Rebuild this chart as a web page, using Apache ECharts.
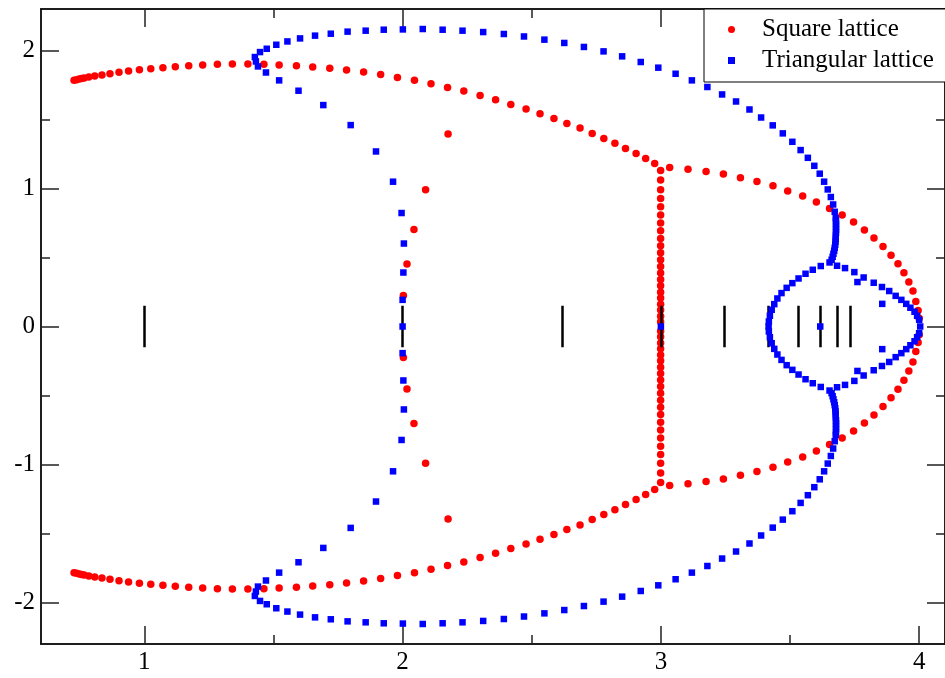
<!DOCTYPE html>
<html>
<head>
    <meta charset="utf-8">
    <title>Chromatic zeros</title>
    <script src="https://cdn.jsdelivr.net/npm/echarts@6/dist/echarts.min.js"></script>
    <style>
        html, body { margin: 0; padding: 0; background: #fff; }
    </style>
</head>
<body>
    <div id="main" style="width: 945px;height:678px;"></div>
    <script type="text/javascript">
        // tick positions
        var xMajorTicks = [1, 2, 3, 4];
        var xMinorTicks = [1.5, 2.5, 3.5];
        var yMajorTicks = [-2, -1, 0, 1, 2];
        var yMinorTicks = [-1.5, -0.5, 0.5, 1.5];

        // short vertical marks on the real axis
        var berahaNumbers = [1, 2, 2.618, 3, 3.247, 3.414, 3.532, 3.618, 3.682, 3.732];
        var markHalfHeight = 0.15;

        // square lattice (red circles)
        var squareOuterUpper = [
            [0.728,1.783],[0.738,1.788],[0.748,1.793],[0.757,1.797],[0.767,1.800],[0.785,1.807],[0.808,1.814],
            [0.836,1.822],[0.867,1.831],[0.902,1.841],[0.939,1.851],[0.981,1.860],[1.025,1.867],[1.072,1.875],
            [1.120,1.882],[1.172,1.889],[1.226,1.894],[1.283,1.899],[1.341,1.901],[1.401,1.901],[1.463,1.899],
            [1.522,1.894],[1.589,1.889],[1.652,1.880],[1.718,1.870],[1.783,1.858],[1.849,1.843],[1.915,1.826],
            [1.980,1.804],[2.046,1.783],[2.110,1.759],[2.174,1.732],[2.237,1.706],[2.300,1.673],[2.360,1.643],
            [2.419,1.609],[2.478,1.575],[2.532,1.541],[2.586,1.507],[2.636,1.471],[2.687,1.438],[2.734,1.399],
            [2.779,1.362],[2.822,1.328],[2.863,1.289],[2.904,1.253],[2.941,1.217],[2.976,1.181]
        ];
        var squareOuterLower = [
            [0.728,-1.783],[0.738,-1.788],[0.748,-1.793],[0.757,-1.797],[0.767,-1.800],[0.785,-1.807],[0.808,-1.814],
            [0.836,-1.822],[0.867,-1.831],[0.902,-1.841],[0.939,-1.851],[0.981,-1.860],[1.025,-1.867],[1.072,-1.875],
            [1.120,-1.882],[1.172,-1.889],[1.226,-1.894],[1.283,-1.899],[1.341,-1.901],[1.401,-1.901],[1.463,-1.899],
            [1.522,-1.894],[1.589,-1.889],[1.652,-1.880],[1.718,-1.870],[1.783,-1.858],[1.849,-1.843],[1.915,-1.826],
            [1.980,-1.804],[2.046,-1.783],[2.110,-1.759],[2.174,-1.732],[2.237,-1.706],[2.300,-1.673],[2.360,-1.643],
            [2.419,-1.609],[2.478,-1.575],[2.532,-1.541],[2.586,-1.507],[2.636,-1.471],[2.687,-1.438],[2.734,-1.399],
            [2.779,-1.362],[2.822,-1.328],[2.863,-1.289],[2.904,-1.253],[2.941,-1.217],[2.976,-1.181]
        ];
        var squareRightUpper = [
            [3.034,1.152],[3.105,1.139],[3.175,1.123],[3.242,1.104],[3.308,1.078],[3.372,1.051],[3.434,1.020],
            [3.491,0.982],[3.549,0.945],[3.602,0.901],[3.653,0.855],[3.702,0.807],[3.746,0.757],[3.788,0.699],
            [3.825,0.641],[3.860,0.580],[3.891,0.517],[3.918,0.454],[3.941,0.389],[3.960,0.322],[3.976,0.257],
            [3.987,0.181],[3.996,0.116],[4.000,0.059]
        ];
        var squareRightLower = [
            [3.034,-1.152],[3.105,-1.139],[3.175,-1.123],[3.242,-1.104],[3.308,-1.078],[3.372,-1.051],[3.434,-1.020],
            [3.491,-0.982],[3.549,-0.945],[3.602,-0.901],[3.653,-0.855],[3.702,-0.807],[3.746,-0.757],[3.788,-0.699],
            [3.825,-0.641],[3.860,-0.580],[3.891,-0.517],[3.918,-0.454],[3.941,-0.389],[3.960,-0.322],[3.976,-0.257],
            [3.987,-0.181],[3.996,-0.116],[4.000,-0.059]
        ];
        var squareVertical = [
            [2.999,1.130],[2.999,1.061],[2.999,0.991],[2.999,0.928],[2.999,0.867],[2.999,0.807],[2.999,0.749],
            [2.999,0.693],[2.999,0.638],[2.999,0.585],[2.999,0.534],[2.999,0.483],[2.999,0.435],[2.999,0.387],
            [2.999,0.341],[2.999,0.295],[2.999,0.249],[2.999,0.206],[2.999,0.162],[2.999,0.119],[2.999,0.075],
            [2.999,0.034],[2.999,-0.034],[2.999,-0.075],[2.999,-0.119],[2.999,-0.162],[2.999,-0.206],[2.999,-0.249],
            [2.999,-0.295],[2.999,-0.341],[2.999,-0.387],[2.999,-0.435],[2.999,-0.483],[2.999,-0.534],[2.999,-0.585],
            [2.999,-0.638],[2.999,-0.693],[2.999,-0.749],[2.999,-0.807],[2.999,-0.867],[2.999,-0.928],[2.999,-0.991],
            [2.999,-1.061],[2.999,-1.130]
        ];
        var squareInner = [
            [2.176,1.394],[2.089,0.991],[2.044,0.703],[2.017,0.453],[2.003,0.225],
            [2.003,-0.225],[2.017,-0.453],[2.044,-0.703],[2.089,-0.991],[2.176,-1.394]
        ];

        // triangular lattice (blue squares)
        var triangularUpper = [
            [2.000,0.000],[2.000,0.193],[2.003,0.391],[2.005,0.601],[1.996,0.822],[1.963,1.049],[1.897,1.268],
            [1.799,1.459],[1.693,1.604],[1.597,1.708],[1.522,1.783],[1.471,1.840],[1.440,1.884],[1.432,1.920],
            [1.428,1.952],[1.448,1.988],[1.474,2.012],[1.511,2.041],[1.554,2.065],[1.603,2.087],[1.661,2.107],
            [1.722,2.121],[1.787,2.136],[1.857,2.143],[1.927,2.150],[2.001,2.152],[2.078,2.155],[2.155,2.150],
            [2.232,2.143],[2.312,2.133],[2.392,2.119],[2.470,2.101],[2.549,2.078],[2.626,2.054],[2.702,2.025],
            [2.778,1.993],[2.850,1.957],[2.922,1.916],[2.990,1.875],[3.057,1.831],[3.120,1.783],[3.180,1.735],
            [3.237,1.681],[3.291,1.630],[3.343,1.572],[3.388,1.514],[3.433,1.457],[3.472,1.399],[3.509,1.338],
            [3.541,1.278],[3.569,1.222],[3.594,1.164],[3.615,1.107],[3.632,1.049],[3.646,0.993],[3.658,0.938],
            [3.667,0.884],[3.673,0.831],[3.677,0.786],[3.678,0.766],[3.678,0.744],[3.678,0.722],[3.678,0.701],
            [3.678,0.679],[3.677,0.657],[3.677,0.635],[3.676,0.614],[3.675,0.592],[3.673,0.570],[3.671,0.549],
            [3.668,0.527],[3.665,0.505],[3.661,0.483],[3.653,0.464]
        ];
        var triangularLower = [
            [2.000,-0.193],[2.003,-0.391],[2.005,-0.601],[1.996,-0.822],[1.963,-1.049],[1.897,-1.268],
            [1.799,-1.459],[1.693,-1.604],[1.597,-1.708],[1.522,-1.783],[1.471,-1.840],[1.440,-1.884],[1.432,-1.920],
            [1.428,-1.952],[1.448,-1.988],[1.474,-2.012],[1.511,-2.041],[1.554,-2.065],[1.603,-2.087],[1.661,-2.107],
            [1.722,-2.121],[1.787,-2.136],[1.857,-2.143],[1.927,-2.150],[2.001,-2.152],[2.078,-2.155],[2.155,-2.150],
            [2.232,-2.143],[2.312,-2.133],[2.392,-2.119],[2.470,-2.101],[2.549,-2.078],[2.626,-2.054],[2.702,-2.025],
            [2.778,-1.993],[2.850,-1.957],[2.922,-1.916],[2.990,-1.875],[3.057,-1.831],[3.120,-1.783],[3.180,-1.735],
            [3.237,-1.681],[3.291,-1.630],[3.343,-1.572],[3.388,-1.514],[3.433,-1.457],[3.472,-1.399],[3.509,-1.338],
            [3.541,-1.278],[3.569,-1.222],[3.594,-1.164],[3.615,-1.107],[3.632,-1.049],[3.646,-0.993],[3.658,-0.938],
            [3.667,-0.884],[3.673,-0.831],[3.677,-0.786],[3.678,-0.766],[3.678,-0.744],[3.678,-0.722],[3.678,-0.701],
            [3.678,-0.679],[3.677,-0.657],[3.677,-0.635],[3.676,-0.614],[3.675,-0.592],[3.673,-0.570],[3.671,-0.549],
            [3.668,-0.527],[3.665,-0.505],[3.661,-0.483],[3.653,-0.464]
        ];
        var triangularLoop = [
            [3.682,0.440],[3.713,0.423],[3.749,0.394],[3.785,0.355],[3.824,0.317],[3.856,0.286],[3.884,0.257],
            [3.909,0.222],[3.931,0.193],[3.950,0.164],[3.966,0.136],[3.982,0.107],[3.992,0.078],[4.000,0.049],
            [4.004,0.000],
            [4.000,-0.049],[3.992,-0.078],[3.982,-0.107],[3.966,-0.136],[3.950,-0.164],[3.931,-0.193],[3.909,-0.222],
            [3.884,-0.257],[3.856,-0.286],[3.824,-0.317],[3.785,-0.355],[3.749,-0.394],[3.713,-0.423],[3.682,-0.440],
            [3.619,0.438],[3.588,0.411],[3.560,0.382],[3.533,0.348],[3.509,0.314],[3.487,0.280],[3.467,0.242],
            [3.451,0.203],[3.439,0.162],[3.429,0.121],[3.422,0.078],[3.418,0.036],[3.417,0.000],
            [3.418,-0.036],[3.422,-0.078],[3.429,-0.121],[3.439,-0.162],[3.451,-0.203],[3.467,-0.242],[3.487,-0.280],
            [3.509,-0.314],[3.533,-0.348],[3.560,-0.382],[3.588,-0.411],[3.619,-0.438]
        ];
        var triangularIsolated = [
            [3.000,0.000],[3.617,0.000],[3.761,0.322],[3.857,0.164],[3.857,-0.164],[3.761,-0.322]
        ];

        var squareData = squareOuterUpper.concat(squareOuterLower, squareRightUpper, squareRightLower,
            squareVertical, squareInner);
        var triangularData = triangularUpper.concat(triangularLower, triangularLoop, triangularIsolated);

        var markData = berahaNumbers.map(function (b) {
            return { coords: [[b, -markHalfHeight], [b, markHalfHeight]] };
        });

        var fontFamily = 'Liberation Serif';
        var frameColor = '#111';

        function makeXAxis(position, ticks, len, withLabel) {
            return {
                type: 'value', position: position, min: 0.6, max: 4.1,
                axisLine: { show: true, onZero: false, lineStyle: { color: frameColor, width: 1.5 } },
                axisTick: { show: true, inside: true, length: len, customValues: ticks,
                    lineStyle: { color: '#222', width: 1.5 } },
                axisLabel: { show: withLabel, customValues: ticks, margin: 6,
                    fontFamily: fontFamily, fontSize: 25, color: '#000' },
                splitLine: { show: false }
            };
        }
        function makeYAxis(position, ticks, len, withLabel) {
            return {
                type: 'value', position: position, min: -2.3, max: 2.3,
                axisLine: { show: true, onZero: false, lineStyle: { color: frameColor, width: 1.5 } },
                axisTick: { show: true, inside: true, length: len, customValues: ticks,
                    lineStyle: { color: '#222', width: 1.5 } },
                axisLabel: { show: withLabel, customValues: ticks, margin: 6,
                    fontFamily: fontFamily, fontSize: 25, color: '#000' },
                splitLine: { show: false }
            };
        }

        var myChart = echarts.init(document.getElementById('main'));
        var option = {
            animation: false,
            backgroundColor: '#fff',
            grid: { left: 41, top: 9, width: 907, height: 635 },
            legend: {
                data: [
                    { name: 'Square lattice', icon: 'circle' },
                    { name: 'Triangular lattice', icon: 'rect' }
                ],
                orient: 'vertical',
                left: 704, top: 9,
                padding: [8, 20, 9, 24],
                itemGap: 6,
                itemWidth: 7, itemHeight: 7,
                backgroundColor: '#fff',
                borderColor: '#000', borderWidth: 1,
                textStyle: { fontFamily: fontFamily, fontSize: 25, color: '#000', lineHeight: 25,
                    padding: [0, 0, 0, 22] },
                z: 10
            },
            xAxis: [
                makeXAxis('bottom', xMajorTicks, 18, true),
                makeXAxis('bottom', xMinorTicks, 9, false),
                makeXAxis('top', xMajorTicks, 18, false),
                makeXAxis('top', xMinorTicks, 9, false)
            ],
            yAxis: [
                makeYAxis('left', yMajorTicks, 18, true),
                makeYAxis('left', yMinorTicks, 9, false),
                makeYAxis('right', yMajorTicks, 18, false),
                makeYAxis('right', yMinorTicks, 9, false)
            ],
            series: [
                {
                    name: 'Square lattice', type: 'scatter',
                    symbol: 'circle', symbolSize: 7.5,
                    itemStyle: { color: '#ff0000', opacity: 1 },
                    data: squareData, z: 2
                },
                {
                    name: 'Beraha', type: 'lines', coordinateSystem: 'cartesian2d',
                    lineStyle: { color: '#000', width: 2.5, opacity: 1 },
                    data: markData, z: 3
                },
                {
                    name: 'Triangular lattice', type: 'scatter',
                    symbol: 'rect', symbolSize: 6.5,
                    itemStyle: { color: '#0000ff', opacity: 1 },
                    data: triangularData, z: 4
                }
            ]
        };
        myChart.setOption(option);
    </script>
</body>
</html>
